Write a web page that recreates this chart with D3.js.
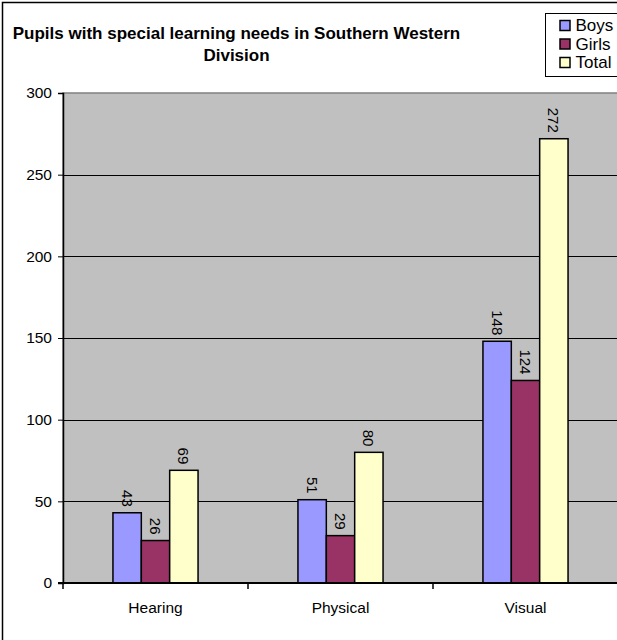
<!DOCTYPE html>
<html>
<head>
<meta charset="utf-8">
<script src="https://cdn.jsdelivr.net/npm/d3@7"></script>
<style>
html,body{margin:0;padding:0;background:#fff;}
svg{display:block;font-family:Arial,"Liberation Sans",sans-serif;}
</style>
</head>
<body>
<div id="chart"></div>
<script>
const categories = ["Hearing", "Physical", "Visual"];
const seriesNames = ["Boys", "Girls", "Total"];
const boys = [43, 51, 148];
const girls = [26, 29, 124];
const total = [69, 80, 272];
const yTicks = [0, 50, 100, 150, 200, 250, 300];
const titleLines = ["Pupils with special learning needs in Southern Western", "Division"];

const colors = {Boys: "#9999FF", Girls: "#993366", Total: "#FFFFCC"};
const seriesValues = {Boys: boys, Girls: girls, Total: total};
const FONT = "Arial,'Liberation Sans',sans-serif";

const W = 617, H = 640;
const svg = d3.select("#chart").append("svg").attr("width", W).attr("height", H);

// outer chart border (cropped at right and bottom)
svg.append("rect").attr("x", 2.5).attr("y", 2.5).attr("width", W + 20).attr("height", H + 20)
  .attr("fill", "#fff").attr("stroke", "#000").attr("stroke-width", 1.5);

const plot = {left: 63, right: 618, top: 93, bottom: 583};

const x = d3.scaleBand().domain(categories).range([plot.left, plot.right]).paddingInner(0).paddingOuter(0);
const y = d3.scaleLinear().domain([0, 300]).range([plot.bottom, plot.top]);
const groupW = x.bandwidth() * 0.46;
const xs = d3.scaleBand().domain(seriesNames).range([0, groupW]);

// plot area
svg.append("rect").attr("x", plot.left).attr("y", plot.top)
  .attr("width", W - plot.left + 10).attr("height", plot.bottom - plot.top)
  .attr("fill", "#C0C0C0").attr("stroke", "#808080").attr("stroke-width", 1.5);

// gridlines
svg.append("g").selectAll("line").data(yTicks.filter(d => d > 0 && d < 300)).join("line")
  .attr("x1", plot.left).attr("x2", W + 5)
  .attr("y1", d => Math.round(y(d)) + 0.5).attr("y2", d => Math.round(y(d)) + 0.5)
  .attr("stroke", "#000").attr("stroke-width", 1);

// bars
const data = [];
categories.forEach((c, i) => seriesNames.forEach(s => data.push({c, s, v: seriesValues[s][i]})));
const barG = svg.append("g");
barG.selectAll("rect").data(data).join("rect")
  .attr("x", d => x(d.c) + (x.bandwidth() - groupW) / 2 + xs(d.s))
  .attr("y", d => y(d.v))
  .attr("width", xs.bandwidth())
  .attr("height", d => y(0) - y(d.v))
  .attr("fill", d => colors[d.s]).attr("stroke", "#000").attr("stroke-width", 1.5);

// value labels (rotated)
barG.selectAll("text").data(data).join("text")
  .attr("transform", d => {
    const cx = x(d.c) + (x.bandwidth() - groupW) / 2 + xs(d.s) + xs.bandwidth() / 2;
    return `translate(${cx},${y(d.v) - 6}) rotate(90)`;
  })
  .attr("text-anchor", "end").attr("dominant-baseline", "central")
  .attr("font-size", 15).attr("fill", "#000")
  .text(d => d.v);

// y axis
const yAxis = d3.axisLeft(y).tickValues(yTicks).tickSize(5).tickPadding(6);
const gy = svg.append("g").attr("transform", `translate(${plot.left},0)`).call(yAxis);
gy.select(".domain").attr("stroke", "#000").attr("stroke-width", 1.5);
gy.selectAll(".tick line").attr("stroke", "#000");
gy.selectAll("text").attr("font-size", 15.5).attr("font-family", FONT).attr("fill", "#000");

// x axis
const xAxis = d3.axisBottom(x).tickSize(0).tickPadding(18.5);
const gx = svg.append("g").attr("transform", `translate(0,${plot.bottom})`).call(xAxis);
gx.select(".domain").remove();
svg.append("line").attr("x1", plot.left - 5).attr("x2", W + 5)
  .attr("y1", plot.bottom).attr("y2", plot.bottom).attr("stroke", "#000").attr("stroke-width", 2);
gx.selectAll("text").attr("font-size", 15.5).attr("font-family", FONT).attr("fill", "#000");
const boundaries = categories.map(c => x(c));
svg.append("g").selectAll("line").data(boundaries).join("line")
  .attr("x1", d => d).attr("x2", d => d)
  .attr("y1", plot.bottom).attr("y2", plot.bottom + 6)
  .attr("stroke", "#000").attr("stroke-width", 1.5);

// title
svg.append("text").attr("text-anchor", "middle")
  .attr("font-size", 17).attr("font-weight", "bold").attr("fill", "#000")
  .selectAll("tspan").data(titleLines).join("tspan")
  .attr("x", 236.5).attr("y", (d, i) => 39 + i * 22).text(d => d);

// legend
const lg = svg.append("g").attr("transform", "translate(545.5,13.5)");
lg.append("rect").attr("x", 0).attr("y", 0).attr("width", 90).attr("height", 63)
  .attr("fill", "#fff").attr("stroke", "#000").attr("stroke-width", 1);
seriesNames.forEach((s, i) => {
  const ry = 12 + i * 18.5;
  lg.append("rect").attr("x", 14.5).attr("y", ry - 5).attr("width", 10).attr("height", 10)
    .attr("fill", colors[s]).attr("stroke", "#000").attr("stroke-width", 1.5);
  lg.append("text").attr("x", 30).attr("y", ry).attr("dominant-baseline", "central")
    .attr("font-size", 17).attr("fill", "#000").text(s);
});
</script>
</body>
</html>
